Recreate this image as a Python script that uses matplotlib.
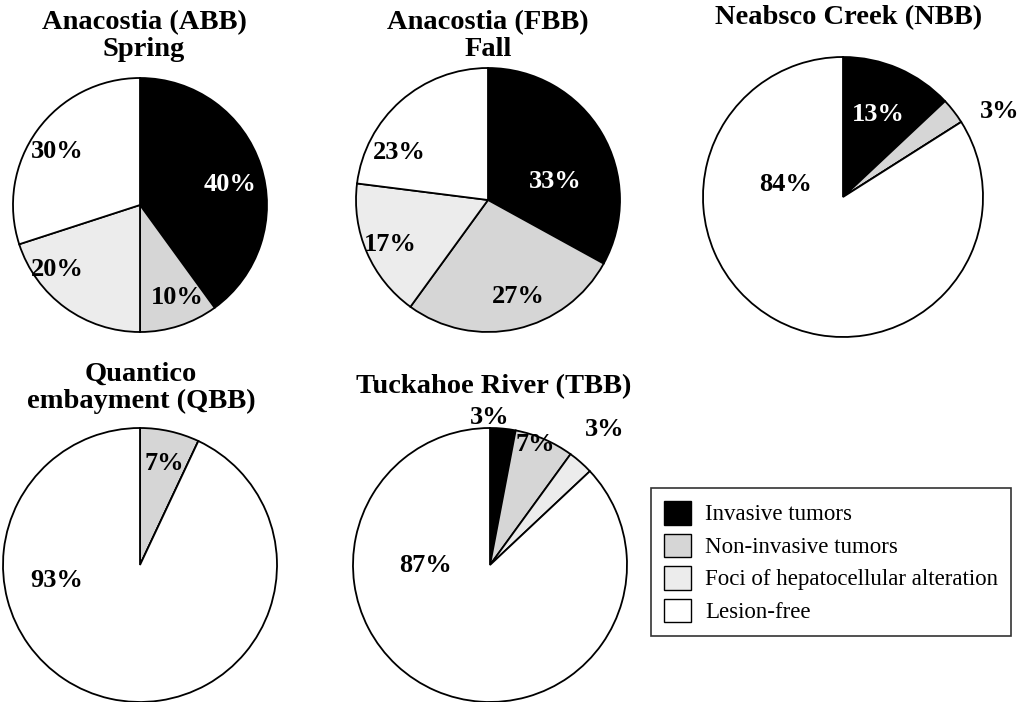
import numpy as np
import matplotlib.pyplot as plt
from matplotlib.patches import Patch

# categories and colours
categories = ["Invasive tumors", "Non-invasive tumors",
              "Foci of hepatocellular alteration", "Lesion-free"]
colors = ["#000000", "#d6d6d6", "#ececec", "#ffffff"]

# percentages for each site (order follows categories)
abb_spring = [40, 10, 20, 30]
fbb_fall = [33, 27, 17, 23]
nbb = [13, 3, 0, 84]
qbb = [0, 7, 0, 93]
tbb = [3, 7, 3, 87]

titles = ["Anacostia (ABB)\nSpring", "Anacostia (FBB)\nFall", "Neabsco Creek (NBB)",
          "Quantico\nembayment (QBB)", "Tuckahoe River (TBB)"]

# layout in pixel coordinates (figure 1024 x 702)
W, H = 1024, 702
pie_layout = [
    dict(c=(140, 205), r=127, title=(144, 36)),
    dict(c=(488, 200), r=132, title=(488, 36)),
    dict(c=(843, 197), r=140, title=(849, 18)),
    dict(c=(140, 565), r=137, title=(141, 388)),
    dict(c=(490, 565), r=137, title=(494, 387)),
]
# label offsets in units of the radius (x right, y up), one per category
label_pos = [
    [(0.71, 0.16), (0.29, -0.73), (-0.65, -0.51), (-0.65, 0.42)],
    [(0.51, 0.14), (0.23, -0.73), (-0.74, -0.34), (-0.67, 0.36)],
    [(0.25, 0.59), (1.12, 0.61), None, (-0.41, 0.09)],
    [None, (0.18, 0.74), None, (-0.61, -0.11)],
    [(0.0, 1.08), (0.33, 0.88), (0.84, 0.99), (-0.47, 0.0)],
]

serif = ["Times New Roman", "Liberation Serif", "DejaVu Serif"]
plt.rcParams["font.family"] = serif

fig = plt.figure(figsize=(W / 100, H / 100), dpi=100)
ax = fig.add_axes([0, 0, 1, 1])

data = [abb_spring, fbb_fall, nbb, qbb, tbb]
for vals, lay, labs, title in zip(data, pie_layout, label_pos, titles):
    cx, cy = lay["c"][0], H - lay["c"][1]
    r = lay["r"]
    ax.pie(vals, colors=colors, startangle=90, counterclock=False,
           center=(cx, cy), radius=r, frame=True,
           wedgeprops=dict(edgecolor="black", linewidth=1.3))
    for v, pos, col in zip(vals, labs, colors):
        if pos is None or v == 0:
            continue
        inside = np.hypot(*pos) < 1
        tc = "white" if (col == "#000000" and inside) else "black"
        ax.text(cx + pos[0] * r, cy + pos[1] * r, f"{v}%", ha="center", va="center",
                fontsize=19, fontweight="bold", color=tc)
    tx, ty = lay["title"]
    ax.text(tx, H - ty, title, ha="center", va="center", fontsize=20.5,
            fontweight="bold", linespacing=1.12)

ax.set_xlim(0, W)
ax.set_ylim(0, H)
ax.set_aspect("equal")
ax.axis("off")

handles = [Patch(facecolor=c, edgecolor="black", linewidth=1.0) for c in colors]
leg = fig.legend(handles, categories, loc="center",
                 bbox_to_anchor=(831 / W, 1 - 562 / H), frameon=True, fancybox=False,
                 edgecolor="black", fontsize=16.5, handlelength=1.2, handleheight=1.2,
                 borderpad=0.55, labelspacing=0.35, handletextpad=0.6)
leg.get_frame().set_linewidth(1.2)

fig.savefig("out.png", dpi=100)
